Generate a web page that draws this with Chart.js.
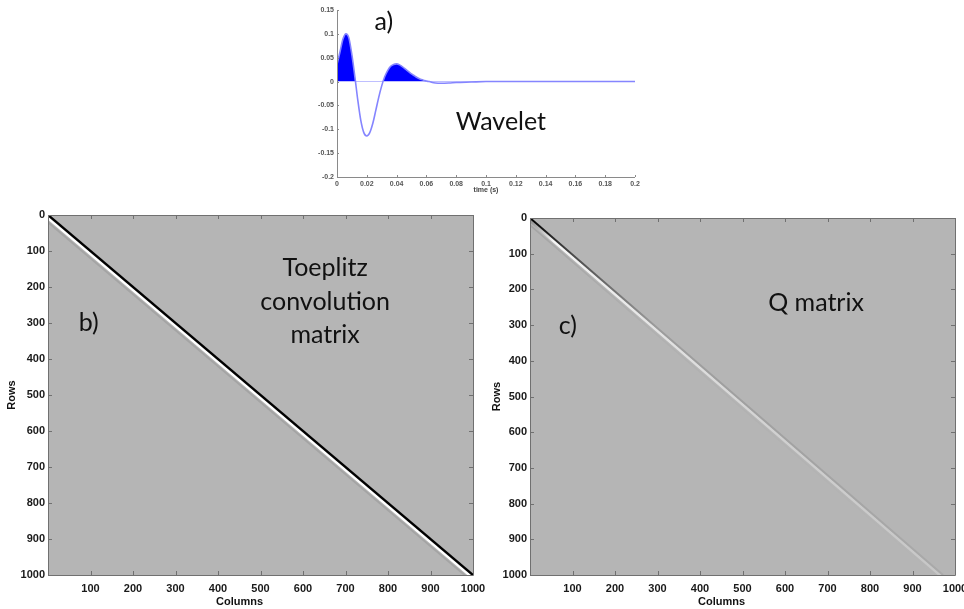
<!doctype html>
<html>

<head>
	<title>Wavelet, Toeplitz and Q matrix</title>
	<script src="https://cdn.jsdelivr.net/npm/chart.js@4/dist/chart.umd.min.js"></script>
	<style>
	body { margin: 0; background: #fff; }
	.panel { position: absolute; }
	</style>
</head>

<body>
	<div class="panel" style="left:300px;top:0px;width:345px;height:200px"><canvas id="wavelet"></canvas></div>
	<div class="panel" style="left:0px;top:200px;width:490px;height:409px"><canvas id="toeplitz"></canvas></div>
	<div class="panel" style="left:482px;top:200px;width:482px;height:409px"><canvas id="qmatrix"></canvas></div>

	<script>
		// wavelet samples read off panel a)
		var waveletTime = [0, 0.002, 0.004, 0.006, 0.008, 0.010, 0.012, 0.014, 0.016, 0.018,
			0.020, 0.022, 0.024, 0.026, 0.028, 0.030, 0.032, 0.034, 0.036, 0.038,
			0.040, 0.042, 0.044, 0.046, 0.048, 0.050, 0.052, 0.054, 0.056, 0.058,
			0.060, 0.062, 0.064, 0.066, 0.070, 0.075, 0.080, 0.090, 0.100, 0.120,
			0.140, 0.160, 0.180, 0.200];
		var waveletAmp = [0.036, 0.062, 0.089, 0.100, 0.091, 0.056, 0.010, -0.040, -0.082, -0.107,
			-0.114, -0.107, -0.088, -0.061, -0.033, -0.009, 0.010, 0.023, 0.032, 0.036,
			0.037, 0.035, 0.031, 0.026, 0.021, 0.016, 0.012, 0.008, 0.005, 0.003,
			0.001, 0.000, -0.002, -0.003, -0.0035, -0.003, -0.002, -0.001, 0, 0,
			0, 0, 0, 0];

		// matrix panels: row range and the column where each band sits at the first / last row
		var matrixRows = [0, 1000];
		var toeplitzCols = [0, 1000];
		var toeplitzOffsets = [0, 9, 20];   // rows below the main diagonal
		var qCols = [0, 972];
		var qOffsets = [0, 8, 20];

		var tickFont = { family: '"Liberation Sans Narrow", "Arial Narrow", "Liberation Sans", Arial', size: 11, weight: 'bold' };
		var noteFont = '25px Lato, "Open Sans", sans-serif';

		// background, inner ticks, box and text notes
		var framePlugin = {
			id: 'frame',
			beforeDatasetsDraw: function(chart, args, opts) {
				var a = chart.chartArea, ctx = chart.ctx;
				if (opts.bg) {
					ctx.save();
					ctx.fillStyle = opts.bg;
					ctx.fillRect(a.left, a.top, a.right - a.left, a.bottom - a.top);
					ctx.restore();
				}
			},
			afterDatasetsDraw: function(chart, args, opts) {
				var a = chart.chartArea, ctx = chart.ctx;
				var xs = chart.scales.x, ys = chart.scales.y;
				var len = opts.tickLen || 4;
				ctx.save();
				ctx.strokeStyle = opts.lineColor || '#666';
				ctx.lineWidth = 1;
				ctx.beginPath();
				xs.ticks.forEach(function(t) {
					var px = Math.round(xs.getPixelForValue(t.value)) + 0.5;
					ctx.moveTo(px, a.bottom); ctx.lineTo(px, a.bottom - len);
					if (opts.box) { ctx.moveTo(px, a.top); ctx.lineTo(px, a.top + len); }
				});
				ys.ticks.forEach(function(t) {
					var py = Math.round(ys.getPixelForValue(t.value)) + 0.5;
					ctx.moveTo(a.left, py); ctx.lineTo(a.left + len, py);
					if (opts.box) { ctx.moveTo(a.right, py); ctx.lineTo(a.right - len, py); }
				});
				ctx.stroke();
				ctx.beginPath();
				if (opts.box) {
					ctx.rect(Math.round(a.left) + 0.5, Math.round(a.top) + 0.5, Math.round(a.right - a.left), Math.round(a.bottom - a.top));
				} else {
					ctx.moveTo(Math.round(a.left) + 0.5, a.top);
					ctx.lineTo(Math.round(a.left) + 0.5, Math.round(a.bottom) + 0.5);
					ctx.lineTo(a.right, Math.round(a.bottom) + 0.5);
				}
				ctx.stroke();

				ctx.fillStyle = '#111';
				ctx.textAlign = 'center';
				ctx.textBaseline = 'middle';
				ctx.font = noteFont;
				(opts.notes || []).forEach(function(n) {
					ctx.fillText(n.text, xs.getPixelForValue(n.x), ys.getPixelForValue(n.y));
				});
				if (opts.xTitle) {
					ctx.font = 'bold 11px "Liberation Sans", Arial';
					ctx.fillText(opts.xTitle, (a.left + a.right) / 2 + opts.xTitleShift, a.bottom + 27);
				}
				ctx.restore();
			}
		};

		function diagGradient(chart, stops) {
			var a = chart.chartArea;
			if (!a) return '#888';
			var g = chart.ctx.createLinearGradient(a.left, a.top, a.right, a.bottom);
			stops.forEach(function(s) { g.addColorStop(s[0], s[1]); });
			return g;
		}

		function bandData(cols, offset) {
			return [
				{ x: cols[0], y: matrixRows[0] + offset },
				{ x: cols[1], y: matrixRows[1] + offset }
			];
		}

		// fixed axis boxes so the plot areas land where the figure has them
		function fixX(h) {
			return function(s) { s.height = h; s.paddingLeft = 0; s.paddingRight = 0; };
		}
		function fixY(w) {
			return function(s) { s.width = w; s.paddingTop = 0; s.paddingBottom = 0; };
		}

		function matrixOptions(pad, notes) {
			return {
				responsive: true,
				maintainAspectRatio: false,
				animation: false,
				layout: { padding: { top: pad.top, right: pad.right, left: 0, bottom: 0 } },
				plugins: {
					legend: { display: false },
					tooltip: { enabled: false },
					frame: { bg: '#b5b5b5', box: true, lineColor: '#707070', notes: notes, xTitle: 'Columns', xTitleShift: -21 }
				},
				scales: {
					x: {
						type: 'linear', min: 0, max: 1000,
						grid: { display: false, drawTicks: false }, border: { display: false },
						ticks: {
							stepSize: 100, padding: 7, color: '#1a1a1a', font: tickFont, maxRotation: 0,
							callback: function(v) { return v === 0 ? '' : String(v); }
						},
						afterFit: fixX(34)
					},
					y: {
						type: 'linear', min: 0, max: 1000, reverse: true,
						grid: { display: false, drawTicks: false }, border: { display: false },
						ticks: {
							stepSize: 100, padding: 3, color: '#1a1a1a', font: tickFont,
							callback: function(v) { return String(v); }
						},
						title: {
							display: true, text: 'Rows', color: '#111',
							font: { family: '"Liberation Sans", Arial', size: 11, weight: 'bold' },
							padding: { top: pad.title, bottom: 0 }
						},
						afterFit: fixY(48)
					}
				}
			};
		}

		window.onload = function() {
			// panel a) wavelet
			var wavePoints = waveletTime.map(function(t, i) { return { x: t, y: waveletAmp[i] }; });
			var smallFont = { family: '"Liberation Sans", Arial', size: 7, weight: 'bold' };
			new Chart(document.getElementById('wavelet').getContext('2d'), {
				type: 'line',
				data: {
					datasets: [{
						data: wavePoints,
						borderColor: '#8585ff',
						borderWidth: 1.6,
						pointRadius: 0,
						cubicInterpolationMode: 'monotone',
						fill: { target: 'origin', above: '#0000ff', below: 'rgba(0,0,0,0)' }
					}]
				},
				options: {
					responsive: true,
					maintainAspectRatio: false,
					animation: false,
					layout: { padding: { top: 10, right: 10, left: 0, bottom: 0 } },
					plugins: {
						legend: { display: false },
						tooltip: { enabled: false },
						frame: {
							box: false, lineColor: '#8a8a8a', tickLen: 2,
							notes: [{ text: 'a)', x: 0.0315, y: 0.125 }, { text: 'Wavelet', x: 0.110, y: -0.085 }]
						}
					},
					scales: {
						x: {
							type: 'linear', min: 0, max: 0.2,
							grid: { display: false, drawTicks: false }, border: { display: false },
							ticks: {
								stepSize: 0.02, padding: 3, color: '#555', maxRotation: 0, autoSkip: false,
								font: smallFont,
								callback: function(v) { return String(+v.toFixed(2)); }
							},
							title: {
								display: true, text: 'time (s)', color: '#444',
								font: smallFont,
								padding: { top: 0, bottom: 6 }
							},
							afterFit: fixX(23)
						},
						y: {
							type: 'linear', min: -0.2, max: 0.15,
							grid: { display: false, drawTicks: false }, border: { display: false },
							ticks: {
								stepSize: 0.05, padding: 3, color: '#555', autoSkip: false,
								font: smallFont,
								callback: function(v) { return String(+v.toFixed(2)); }
							},
							afterFit: fixY(37)
						}
					}
				},
				plugins: [framePlugin]
			});

			// panel b) Toeplitz convolution matrix
			var toeplitzStyles = [
				{ color: '#000000', width: 2.4 },
				{ color: '#ffffff', width: 2.4 },
				{ color: '#a4a4a4', width: 1.8 }
			];
			new Chart(document.getElementById('toeplitz').getContext('2d'), {
				type: 'scatter',
				data: {
					datasets: toeplitzOffsets.map(function(o, i) {
						return {
							data: bandData(toeplitzCols, o),
							showLine: true, pointRadius: 0,
							borderColor: toeplitzStyles[i].color,
							borderWidth: toeplitzStyles[i].width
						};
					})
				},
				options: matrixOptions({ top: 15, right: 17, title: 5 }, [
					{ text: 'Toeplitz', x: 652, y: 147 },
					{ text: 'convolution', x: 652, y: 242 },
					{ text: 'matrix', x: 652, y: 333 },
					{ text: 'b)', x: 96, y: 300 }
				]),
				plugins: [framePlugin]
			});

			// panel c) Q matrix
			var qStops = [
				[[0, '#000000'], [0.1, '#4a4a4a'], [0.3, '#9c9c9c'], [1, '#aaaaaa']],
				[[0, '#8c8c8c'], [0.06, '#f6f6f6'], [0.3, '#e4e4e4'], [0.6, '#d0d0d0'], [1, '#c6c6c6']],
				[[0, '#a4a4a4'], [0.3, '#b0b0b0'], [1, '#b5b5b5']]
			];
			var qWidths = [2, 2.6, 1.6];
			new Chart(document.getElementById('qmatrix').getContext('2d'), {
				type: 'scatter',
				data: {
					datasets: qOffsets.map(function(o, i) {
						return {
							data: bandData(qCols, o),
							showLine: true, pointRadius: 0,
							borderWidth: qWidths[i],
							borderColor: function(ctx) { return diagGradient(ctx.chart, qStops[i]); }
						};
					})
				},
				options: matrixOptions({ top: 18, right: 9, title: 8 }, [
					{ text: 'Q matrix', x: 673, y: 237 },
					{ text: 'c)', x: 89, y: 301 }
				]),
				plugins: [framePlugin]
			});
		};
	</script>

</body>

</html>
